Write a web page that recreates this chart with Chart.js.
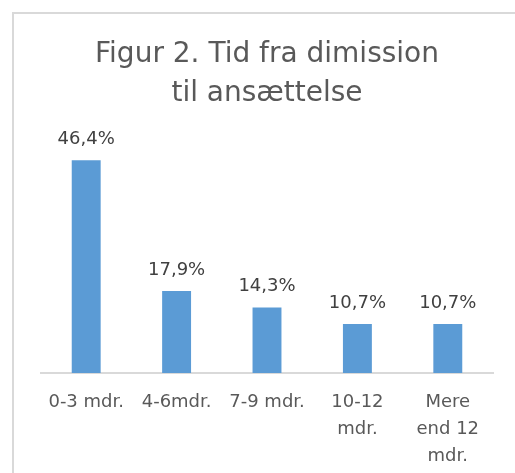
<!DOCTYPE html>
<html>
<head>
<meta charset="utf-8">
<script src="https://cdn.jsdelivr.net/npm/chart.js@4"></script>
<style>
  html, body { margin: 0; padding: 0; background: #fff; overflow: hidden; }
  .frame {
    position: absolute; left: 12px; top: 12px;
    width: 600px; height: 600px;
    border-top: 2px solid #d9d9d9; border-left: 2px solid #d9d9d9;
  }
  #chart { position: absolute; left: 0; top: 0; }
</style>
</head>
<body>
<div class="frame"></div>
<canvas id="chart" width="515" height="473"></canvas>
<script>
// Figur 2 - tid fra dimission til ansaettelse
const categories = [
    '0-3 mdr.',
    '4-6mdr.',
    '7-9 mdr.',
    ['10-12', 'mdr.'],
    ['Mere', 'end 12', 'mdr.']
];
const shares = [46.4, 17.9, 14.3, 10.7, 10.7];
const titleLines = ['Figur 2. Tid fra dimission', 'til ansættelse'];

const fmt = v => v.toFixed(1).replace('.', ',') + '%';

// simple value labels above each bar
const barLabels = {
    id: 'barLabels',
    afterDatasetsDraw(chart) {
        const ctx = chart.ctx;
        const meta = chart.getDatasetMeta(0);
        ctx.save();
        ctx.font = '18px "DejaVu Sans"';
        ctx.fillStyle = '#404040';
        ctx.textAlign = 'center';
        ctx.textBaseline = 'alphabetic';
        meta.data.forEach((bar, i) => {
            ctx.fillText(fmt(shares[i]), bar.x, bar.y - 16);
        });
        ctx.restore();
    }
};

new Chart(document.getElementById('chart'), {
    type: 'bar',
    data: {
        labels: categories,
        datasets: [{
            data: shares,
            backgroundColor: '#5b9bd5',
            borderWidth: 0,
            categoryPercentage: 1,
            barPercentage: 0.32
        }]
    },
    options: {
        responsive: false,
        animation: false,
        layout: {
            padding: { left: 41, right: 22, top: 0, bottom: -5 }
        },
        scales: {
            y: {
                min: 0,
                max: 50,
                display: false
            },
            x: {
                grid: { display: false },
                border: { display: true, color: '#d9d9d9', width: 2 },
                ticks: {
                    color: '#595959',
                    font: { family: 'DejaVu Sans', size: 18, lineHeight: 1.5 },
                    padding: 8,
                    maxRotation: 0,
                    autoSkip: false
                }
            }
        },
        plugins: {
            legend: { display: false },
            tooltip: { enabled: false },
            title: {
                display: true,
                text: titleLines,
                color: '#595959',
                font: { family: 'DejaVu Sans', size: 28, weight: 'normal', lineHeight: 1.39 },
                padding: { top: 35, bottom: 31 }
            }
        }
    },
    plugins: [barLabels]
});
</script>
</body>
</html>
